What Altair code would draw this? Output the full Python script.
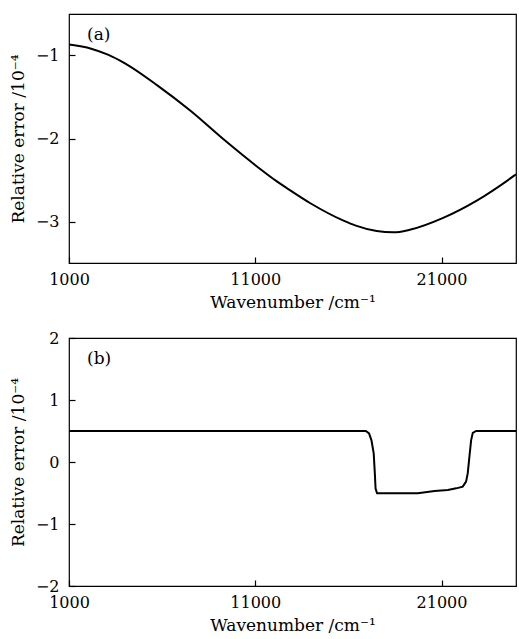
import altair as alt
import pandas as pd

# Panel (a): smooth relative-error curve
a_wavenumber = [1000, 2190, 3090, 3980, 5760, 7540, 9330, 11110, 12180, 12710,
                13960, 15740, 16400, 17520, 18420, 19300, 21090, 22870, 24920, 25000]
a_error = [-0.868, -0.918, -0.990, -1.092, -1.363, -1.669, -2.016, -2.340, -2.520, -2.600,
           -2.780, -2.990, -3.050, -3.115, -3.131, -3.099, -2.956, -2.751, -2.445, -2.432]

# Panel (b): step-like relative-error curve
b_wavenumber = [1000, 16940, 17110, 17240, 17360, 17420, 17460, 17540, 19730, 20630,
                21340, 21790, 22140, 22320, 22410, 22500, 22590, 22680, 22860, 25000]
b_error = [0.5, 0.5, 0.46, 0.35, 0.14, -0.18, -0.43, -0.505, -0.505, -0.468,
           -0.452, -0.425, -0.398, -0.317, -0.18, 0.09, 0.35, 0.47, 0.5, 0.5]

x_ticks = [1000, 11000, 21000]
a_y_ticks = [-3, -2, -1]
b_y_ticks = [-2, -1, 0, 1, 2]

FONT = "DejaVu Serif"
X_TITLE = "Wavenumber /cm\u207b\u00b9"
Y_TITLE = "Relative error /10\u207b\u2074"

df_a = pd.DataFrame({"wn": a_wavenumber, "err": a_error})
df_b = pd.DataFrame({"wn": b_wavenumber, "err": b_error})

W = 447


def x_enc():
    return alt.X("wn:Q", scale=alt.Scale(domain=[1000, 25000], nice=False, zero=False),
                 axis=alt.Axis(values=x_ticks, title=X_TITLE, format="d",
                               labelPadding=8, titlePadding=7))


def panel(df, ydomain, yticks, label, h, interp):
    line = alt.Chart(df).mark_line(color="black", strokeWidth=2, interpolate=interp, clip=True).encode(
        x=x_enc(),
        y=alt.Y("err:Q", scale=alt.Scale(domain=ydomain, nice=False, zero=False),
                axis=alt.Axis(values=yticks, title=Y_TITLE, format="d",
                              labelPadding=10, titlePadding=8)),
    )
    txt = alt.Chart(pd.DataFrame({"t": [label]})).mark_text(
        font=FONT, fontSize=17, align="left", baseline="middle", color="black"
    ).encode(x=alt.value(18), y=alt.value(21), text="t:N")
    return alt.layer(line, txt).properties(width=W, height=h)


top = panel(df_a, [-3.5, -0.5], a_y_ticks, "(a)", 249, "monotone")
bottom = panel(df_b, [-2, 2], b_y_ticks, "(b)", 248, "linear")

chart = alt.vconcat(top, bottom, spacing=18).properties(
    padding={"left": 8, "top": 13, "right": 1, "bottom": 2},
    background="white",
).configure_view(
    stroke="black", strokeWidth=1.2
).configure_axis(
    labelFont=FONT, titleFont=FONT, labelFontSize=16, titleFontSize=17,
    labelColor="black", titleColor="black", titleFontWeight="normal",
    grid=False, domain=False, ticks=True, tickColor="black", tickSize=6,
    tickWidth=1.2, offset=-6, labelFlush=False, labelOverlap=False,
)

chart.save("out.html", embed_options={"renderer": "svg", "actions": False})
